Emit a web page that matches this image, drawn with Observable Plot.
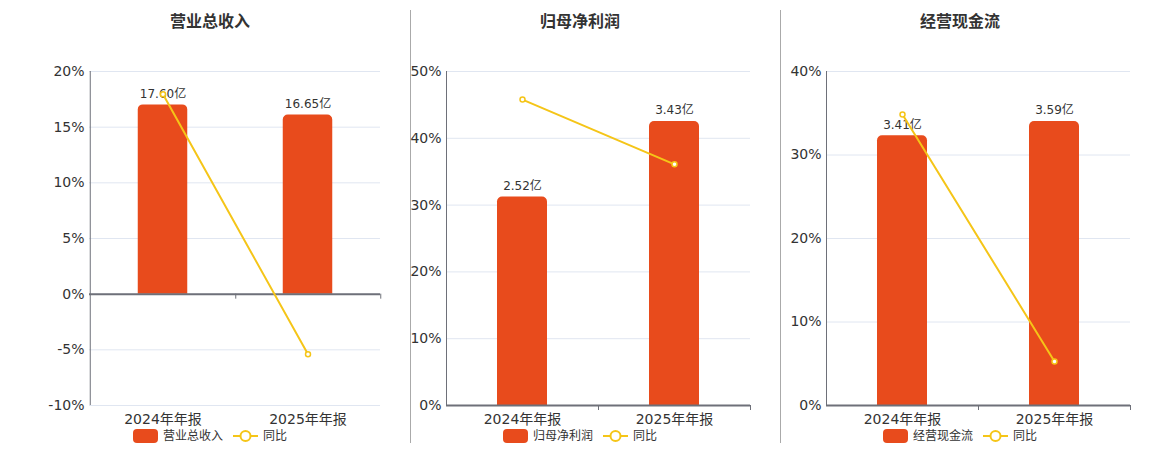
<!DOCTYPE html>
<html>
<head>
<meta charset="utf-8">
<script src="https://cdn.jsdelivr.net/npm/d3@7"></script>
<script src="https://cdn.jsdelivr.net/npm/@observablehq/plot@0.6"></script>
<style>
  body { margin: 0; background: #fff; font-family: "DejaVu Sans", "Noto Sans CJK SC", sans-serif; }
  #root { position: relative; width: 1160px; height: 450px; overflow: hidden; }
  .divider { position: absolute; top: 10px; width: 1px; height: 433px; background: #aaa; }
  .title { position: absolute; top: 12px; width: 300px; margin-left: -150px; text-align: center;
           font-weight: bold; font-size: 16px; line-height: 20px; color: #333; }
  .chart { position: absolute; top: 50px; }
  .chart svg { overflow: visible; }
  .legend { position: absolute; top: 429px; width: 300px; margin-left: -150px; height: 14px;
            display: flex; justify-content: center; align-items: center; font-size: 12px; color: #333; }
  .legend .item { display: flex; align-items: center; }
  .legend .item + .item { margin-left: 10px; }
  .legend .box { width: 25px; height: 14px; border-radius: 4px; }
  .legend .lbl { margin-left: 5px; line-height: 14px; }
</style>
</head>
<body>
<div id="root"></div>
<script>
const categories = ["2024年年报", "2025年年报"];
const titles = ["营业总收入", "归母净利润", "经营现金流"];
const yoyLabel = "同比";
const unit = "亿";

const revenue = [17.60, 16.65];
const revenueYoY = [17.95, -5.40];
const netProfit = [2.52, 3.43];
const netProfitYoY = [45.8, 36.1];
const cashFlow = [3.41, 3.59];
const cashFlowYoY = [34.85, 5.28];

const revenueTicks = [-10, -5, 0, 5, 10, 15, 20];
const netProfitTicks = [0, 10, 20, 30, 40, 50];
const cashFlowTicks = [0, 10, 20, 30, 40];

const barColor = "#E84B1C";
const lineColor = "#F5C518";
const axisColor = "#6e7079";
const gridColor = "#e0e6f1";
const fontFamily = "'DejaVu Sans', 'Noto Sans CJK SC', sans-serif";

const panels = [
  {title: titles[0], values: revenue, yoy: revenueYoY, ticks: revenueTicks, left: 0, width: 410, marginLeft: 89, center: 210},
  {title: titles[1], values: netProfit, yoy: netProfitYoY, ticks: netProfitTicks, left: 411, width: 369, marginLeft: 35, center: 580},
  {title: titles[2], values: cashFlow, yoy: cashFlowYoY, ticks: cashFlowTicks, left: 781, width: 379, marginLeft: 45, center: 960}
];

const root = document.getElementById("root");

[410, 780].forEach(x => {
  const d = document.createElement("div");
  d.className = "divider";
  d.style.left = x + "px";
  root.appendChild(d);
});

panels.forEach(p => {
  const marginRight = 30;
  const W = p.width - p.marginLeft - marginRight;
  const step = W / 2;
  const barWidth = 50;
  const inset = (step - barWidth) / 2;
  const ymin = d3.min(p.ticks), ymax = d3.max(p.ticks);
  const k = 0.85 * ymax / d3.max(p.values);
  const data = categories.map((c, i) => ({cat: c, v: p.values[i], yoy: p.yoy[i]}));

  const t = document.createElement("div");
  t.className = "title";
  t.style.left = p.center + "px";
  t.textContent = p.title;
  root.appendChild(t);

  const chart = Plot.plot({
    width: p.width,
    height: 378,
    marginLeft: p.marginLeft,
    marginRight: marginRight,
    marginTop: 21,
    marginBottom: 23,
    style: {fontFamily: fontFamily, color: "#333", background: "transparent", overflow: "visible"},
    x: {domain: categories, padding: 0, label: null},
    y: {domain: [ymin, ymax], label: null},
    marks: [
      Plot.gridY(p.ticks, {stroke: gridColor, strokeOpacity: 1}),
      Plot.barY(data, {x: "cat", y: d => d.v * k, fill: barColor, insetLeft: inset, insetRight: inset, ry1: 5}),
      Plot.ruleX([categories[0]], {dx: -step / 2, y1: ymin, y2: ymax, stroke: axisColor}),
      Plot.ruleX(categories, {dx: step / 2, y1: 0, y2: 0, insetBottom: -5, stroke: axisColor}),
      Plot.ruleY([0], {stroke: axisColor, strokeWidth: 2}),
      Plot.axisY(p.ticks, {tickSize: 0, tickPadding: 5, tickFormat: d => d + "%", fontSize: 14, label: null}),
      Plot.axisX({tickSize: 0, tickPadding: 9, fontSize: 14, label: null}),
      Plot.text(data, {x: "cat", y: d => d.v * k, text: d => d.v.toFixed(2) + unit, dy: -11, fontSize: 12, fill: "#333"}),
      Plot.line(data, {x: "cat", y: "yoy", stroke: lineColor, strokeWidth: 2}),
      Plot.dot(data, {x: "cat", y: "yoy", r: 2.5, fill: "#fff", stroke: lineColor, strokeWidth: 1.5})
    ]
  });
  const wrap = document.createElement("div");
  wrap.className = "chart";
  wrap.style.left = p.left + "px";
  wrap.appendChild(chart);
  root.appendChild(wrap);

  const lg = document.createElement("div");
  lg.className = "legend";
  lg.style.left = p.center + "px";
  lg.innerHTML =
    `<span class="item"><span class="box" style="background:${barColor}"></span><span class="lbl">${p.title}</span></span>` +
    `<span class="item"><svg width="25" height="14"><line x1="0" x2="25" y1="7" y2="7" stroke="${lineColor}" stroke-width="2"/><circle cx="12.5" cy="7" r="5" fill="#fff" stroke="${lineColor}" stroke-width="2"/></svg><span class="lbl">${yoyLabel}</span></span>`;
  root.appendChild(lg);
});
</script>
</body>
</html>
